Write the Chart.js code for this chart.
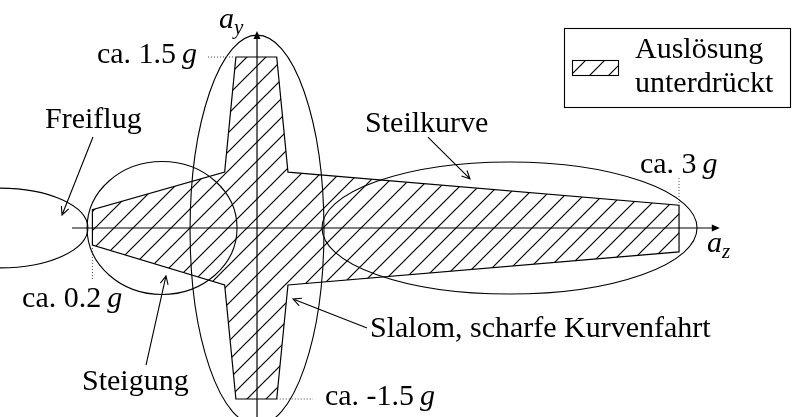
<!DOCTYPE html>
<html>
<head>
<meta charset="utf-8">
<script src="https://cdn.jsdelivr.net/npm/chart.js@4"></script>
<style>
  html, body { margin: 0; padding: 0; background: #fff; }
  canvas { display: block; }
</style>
</head>
<body>
<canvas id="diagramm" width="792" height="417"></canvas>
<script>
// Bereich "Auslösung unterdrückt" (a_z, a_y in g)
const shapeZ = [-0.15, 0.14, 0.22, 3.0, 3.0, 0.22, 0.14, -0.15, -0.23, -1.17, -1.17, -0.23, -0.15];
const shapeY = [1.5, 1.5, 0.49, 0.2, -0.21, -0.5, -1.5, -1.5, -0.5, -0.15, 0.16, 0.49, 1.5];

// Fahrsituationen als Ellipsen (Mitte, Halbachsen in g)
const regionNames = ['Freiflug', 'Steigung', 'Slalom, scharfe Kurvenfahrt', 'Steilkurve'];
const regionCz = [-1.827, -0.675, 0.0, 1.795];
const regionCy = [0.0, 0.0, -0.018, 0.0];
const regionRz = [0.625, 0.533, 0.476, 1.333];
const regionRy = [0.35, 0.583, 1.71, 0.579];

// Grenzwerte
const limitTexts = ['ca. 1.5', 'ca. 3', 'ca. 0.2', 'ca. -1.5'];

const font = '"Liberation Serif", "DejaVu Serif", serif';
const fontSize = 30;

// hatch pattern
const tile = document.createElement('canvas');
tile.width = tile.height = 19;
const tc = tile.getContext('2d');
tc.strokeStyle = '#000';
tc.lineWidth = 1.2;
tc.beginPath();
tc.moveTo(-2, 21); tc.lineTo(21, -2);
tc.moveTo(-2, 2); tc.lineTo(2, -2);
tc.moveTo(17, 21); tc.lineTo(21, 17);
tc.stroke();
const hatch = tc.createPattern(tile, 'repeat');

function drawRuns(ctx, parts, x, y, align) {
  let total = 0;
  parts.forEach(p => {
    ctx.font = (p.it ? 'italic ' : '') + (p.size || fontSize) + 'px ' + font;
    p.w = ctx.measureText(p.t).width;
    total += p.w;
  });
  let cx = align === 'right' ? x - total : x;
  parts.forEach(p => {
    ctx.font = (p.it ? 'italic ' : '') + (p.size || fontSize) + 'px ' + font;
    ctx.fillText(p.t, cx, y + (p.dy || 0));
    cx += p.w;
  });
}

function arrow(ctx, x1, y1, x2, y2) {
  const a = Math.atan2(y2 - y1, x2 - x1);
  ctx.beginPath();
  ctx.moveTo(x1, y1);
  ctx.lineTo(x2, y2);
  ctx.moveTo(x2 - 9 * Math.cos(a - 0.45), y2 - 9 * Math.sin(a - 0.45));
  ctx.lineTo(x2, y2);
  ctx.lineTo(x2 - 9 * Math.cos(a + 0.45), y2 - 9 * Math.sin(a + 0.45));
  ctx.stroke();
}

function axisArrow(ctx, x1, y1, x2, y2) {
  const a = Math.atan2(y2 - y1, x2 - x1);
  ctx.beginPath();
  ctx.moveTo(x1, y1);
  ctx.lineTo(x2 - 4 * Math.cos(a), y2 - 4 * Math.sin(a));
  ctx.stroke();
  ctx.beginPath();
  ctx.moveTo(x2, y2);
  ctx.lineTo(x2 - 8 * Math.cos(a) + 3.5 * Math.sin(a), y2 - 8 * Math.sin(a) - 3.5 * Math.cos(a));
  ctx.lineTo(x2 - 8 * Math.cos(a) - 3.5 * Math.sin(a), y2 - 8 * Math.sin(a) + 3.5 * Math.cos(a));
  ctx.closePath();
  ctx.fill();
}

const sketch = {
  id: 'sketch',
  afterDatasetsDraw(chart) {
    const ctx = chart.ctx;
    const xs = chart.scales.x, ys = chart.scales.y;
    const X = v => xs.getPixelForValue(v);
    const Y = v => ys.getPixelForValue(v);
    ctx.save();
    ctx.strokeStyle = '#000';
    ctx.fillStyle = '#000';
    ctx.lineWidth = 1.1;

    // ellipses
    regionNames.forEach((n, i) => {
      const cx = X(regionCz[i]), cy = Y(regionCy[i]);
      const rx = X(regionCz[i] + regionRz[i]) - cx;
      const ry = cy - Y(regionCy[i] + regionRy[i]);
      ctx.beginPath();
      ctx.ellipse(cx, cy, rx, ry, 0, 0, Math.PI * 2);
      ctx.stroke();
    });

    // axes
    ctx.lineWidth = 1.2;
    axisArrow(ctx, X(-1.315), Y(0), X(3.29), Y(0));
    axisArrow(ctx, X(0), Y(-1.66), X(0), Y(1.728));

    // dotted leaders
    ctx.save();
    ctx.strokeStyle = '#444';
    ctx.lineWidth = 1;
    ctx.setLineDash([1, 2]);
    const leaders = [[-0.348, 1.5, -0.15, 1.5], [3.0, 0.439, 3.0, 0.2], [-1.17, -0.15, -1.17, -0.456], [0.14, -1.5, 0.398, -1.5]];
    leaders.forEach(l => {
      ctx.beginPath();
      ctx.moveTo(X(l[0]), Y(l[1]));
      ctx.lineTo(X(l[2]), Y(l[3]));
      ctx.stroke();
    });
    ctx.restore();

    // callout arrows
    ctx.lineWidth = 1.1;
    const callouts = [[-1.166, 0.798, -1.386, 0.114], [-0.789, -1.202, -0.647, -0.421], [0.782, -0.877, 0.256, -0.623], [1.215, 0.798, 1.514, 0.43]];
    callouts.forEach(c => arrow(ctx, X(c[0]), Y(c[1]), X(c[2]), Y(c[3])));

    // region labels
    ctx.textBaseline = 'alphabetic';
    const labelPos = [[-1.507, 0.877], [-1.244, -1.421], [0.803, -0.956], [0.768, 0.842]];
    regionNames.forEach((n, i) => drawRuns(ctx, [{ t: n }], X(labelPos[i][0]), Y(labelPos[i][1]), 'left'));

    // limit labels
    const limitPos = [[-0.426, 1.447, 'right'], [2.722, 0.482, 'left'], [-1.67, -0.693, 'left'], [0.483, -1.553, 'left']];
    limitTexts.forEach((t, i) => drawRuns(ctx, [{ t: t + '\u2009' }, { t: 'g', it: true }], X(limitPos[i][0]), Y(limitPos[i][1]), limitPos[i][2]));

    // axis names
    drawRuns(ctx, [{ t: 'a', it: true }, { t: 'y', it: true, size: 21, dy: 6 }], X(-0.27), Y(1.754), 'left');
    drawRuns(ctx, [{ t: 'a', it: true }, { t: 'z', it: true, size: 21, dy: 6 }], X(3.198), Y(-0.211), 'left');

    // legend
    ctx.lineWidth = 1.1;
    ctx.strokeRect(564.5, 28.5, 226, 79);
    ctx.fillStyle = hatch;
    ctx.fillRect(572, 60, 46, 15);
    ctx.strokeRect(572.5, 60.5, 46, 15);
    ctx.fillStyle = '#000';
    drawRuns(ctx, [{ t: 'Auslösung' }], 635, 58, 'left');
    drawRuns(ctx, [{ t: 'unterdrückt' }], 635, 92, 'left');

    ctx.restore();
  }
};

new Chart(document.getElementById('diagramm'), {
  type: 'scatter',
  data: {
    datasets: [{
      label: 'Auslösung unterdrückt',
      data: shapeZ.map((z, i) => ({ x: z, y: shapeY[i] })),
      showLine: true,
      fill: 'shape',
      tension: 0,
      borderColor: '#000',
      borderWidth: 1.2,
      backgroundColor: hatch,
      pointRadius: 0
    }]
  },
  options: {
    responsive: false,
    animation: false,
    devicePixelRatio: 1,
    layout: { padding: 0 },
    plugins: {
      legend: { display: false },
      tooltip: { enabled: false }
    },
    scales: {
      x: { type: 'linear', min: -1.827, max: 3.803, display: false },
      y: { type: 'linear', min: -1.658, max: 2.0, display: false }
    }
  },
  plugins: [sketch]
});
</script>
</body>
</html>
